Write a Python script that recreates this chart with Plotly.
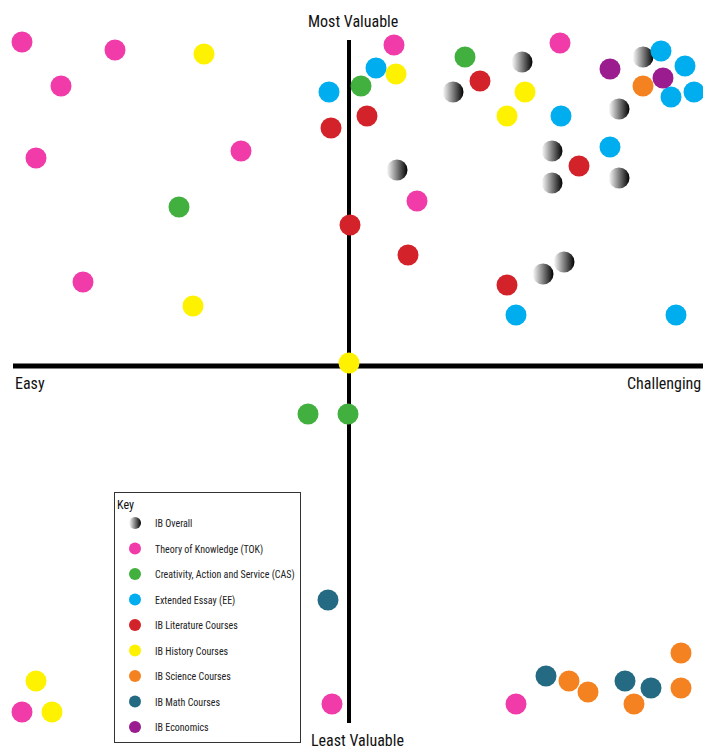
import plotly.graph_objects as go

# ---- data: (x = difficulty, easy<0<challenging ; y = value, least<0<most) ----
series_names = [
    "IB Overall",
    "Theory of Knowledge (TOK)",
    "Creativity, Action and Service (CAS)",
    "Extended Essay (EE)",
    "IB Literature Courses",
    "IB History Courses",
    "IB Science Courses",
    "IB Math Courses",
    "IB Economics",
]

overall_x = [10.4, 17.3, 29.4, 27.0, 20.3, 20.3, 27.0, 4.8, 21.5, 19.4]
overall_y = [27.3, 30.3, 30.8, 25.6, 21.4, 18.2, 18.7, 19.5, 10.3, 9.1]

tok_x = [-32.7, -23.4, -28.8, -31.3, -10.8, -26.6, 4.5, 6.8, 21.1, -1.7, 16.7, -32.7]
tok_y = [32.3, 31.5, 27.9, 20.7, 21.4, 8.3, 32.0, 16.4, 32.2, -33.9, -33.9, -34.7]

cas_x = [-17.0, 1.2, 11.6, -4.1, -0.1]
cas_y = [15.8, 27.9, 30.8, -4.9, -4.9]

ee_x = [-2.0, 2.7, 21.2, 26.1, 31.2, 33.6, 32.2, 34.5, 16.7, 32.7]
ee_y = [27.3, 29.7, 24.9, 21.8, 31.4, 29.9, 26.8, 27.3, 5.0, 5.0]

lit_x = [-1.8, 1.8, 0.1, 13.1, 23.0, 5.9, 15.8]
lit_y = [23.7, 24.9, 14.0, 28.4, 19.9, 11.0, 8.0]

hist_x = [-14.5, -15.6, 4.7, 17.6, 15.8, 0.0, -31.3, -29.7]
hist_y = [31.1, 5.9, 29.1, 27.3, 24.9, 0.2, -31.6, -34.7]

sci_x = [29.4, 22.0, 23.9, 28.5, 33.2, 33.2]
sci_y = [27.9, -31.6, -32.7, -33.9, -28.8, -32.3]

math_x = [-2.1, 19.7, 27.6, 30.2]
math_y = [-23.5, -31.1, -31.6, -32.3]

econ_x = [26.1, 31.4]
econ_y = [29.6, 28.7]

# ---- styling ----
W, H = 703, 751
X_RANGE = [-34.9, 35.4]
Y_RANGE = [-38.6, 36.5]
COLORS = ["#FFFFFF", "#F03BA8", "#41B03F", "#00AEEF", "#D3222A",
          "#FFF200", "#F58220", "#246A82", "#9A1C8F"]
FONT = "Liberation Sans Narrow, Arial Narrow, Roboto Condensed, Liberation Sans, sans-serif"
MSIZE = 21

xs = [overall_x, tok_x, cas_x, ee_x, lit_x, hist_x, sci_x, math_x, econ_x]
ys = [overall_y, tok_y, cas_y, ee_y, lit_y, hist_y, sci_y, math_y, econ_y]

fig = go.Figure()

# quadrant axes
fig.add_trace(go.Scatter(x=[-33.6, 35.4], y=[-0.1, -0.1], mode="lines",
                         line=dict(color="black", width=5), showlegend=False, hoverinfo="skip"))
fig.add_trace(go.Scatter(x=[0, 0], y=[32.5, -35.8], mode="lines",
                         line=dict(color="black", width=4), showlegend=False, hoverinfo="skip"))

for i, (name, x, y) in enumerate(zip(series_names, xs, ys)):
    marker = dict(color=COLORS[i], size=MSIZE, line=dict(width=0))
    if i == 0:
        marker["gradient"] = dict(type="horizontal", color="#000000")
    fig.add_trace(go.Scatter(x=x, y=y, mode="markers", name=name, marker=marker,
                             legendgroup=name))

# axis end labels
LBL = dict(size=16, color="#111", family=FONT)
fig.add_annotation(x=0.4, y=34.4, text="Most Valuable", showarrow=False, font=LBL)
fig.add_annotation(x=0.8, y=-37.5, text="Least Valuable", showarrow=False, font=LBL)
fig.add_annotation(x=-33.6, y=-1.8, text="Easy", showarrow=False, xanchor="left", font=LBL)
fig.add_annotation(x=35.4, y=-1.8, text="Challenging", showarrow=False, xanchor="right", font=LBL)

fig.update_layout(
    width=W, height=H, autosize=False,
    margin=dict(l=0, r=0, t=0, b=0),
    paper_bgcolor="white", plot_bgcolor="white",
    xaxis=dict(range=X_RANGE, visible=False, fixedrange=True),
    yaxis=dict(range=Y_RANGE, visible=False, fixedrange=True),
    legend=dict(
        x=114 / W, y=1 - 492 / H, xanchor="left", yanchor="top",
        bordercolor="#333", borderwidth=1, bgcolor="white",
        title=dict(text="Key", font=dict(size=12, family=FONT, color="#111")),
        font=dict(size=10, family=FONT, color="#222"),
        itemsizing="constant", traceorder="grouped", tracegroupgap=6.5,
    ),
    font=dict(family=FONT),
)

fig.write_html(
    "out.html",
    config={"displayModeBar": False, "staticPlot": False},
    post_script="document.body.style.margin='0';document.body.style.overflow='hidden';",
)
